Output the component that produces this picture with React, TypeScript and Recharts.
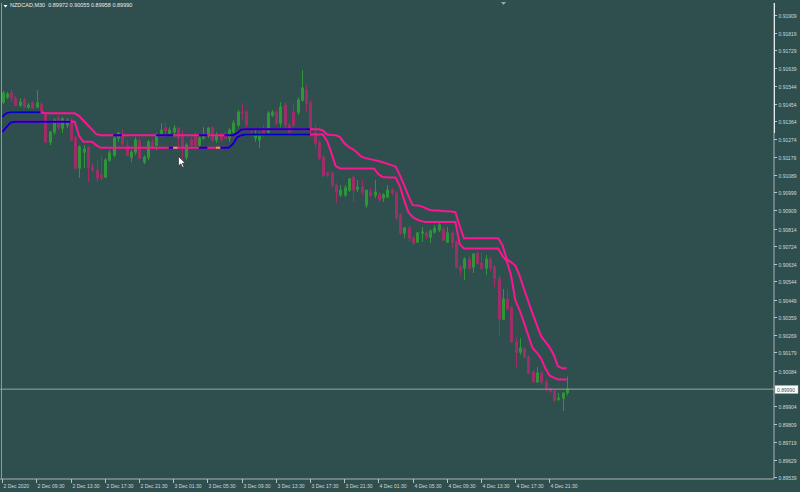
import React from 'react';
import { ComposedChart, Bar, Line, XAxis, YAxis, ReferenceLine } from 'recharts';

const symbol = 'NZDCAD,M30';

// M30 candles, first bar 2 Dec 05:30, last bar 4 Dec 23:30
const opens = [
  0.91463, 0.91488, 0.91509, 0.91483, 0.91447, 0.91473, 0.91437, 0.91458, 0.91437, 0.91452,
  0.91406, 0.91258, 0.91309, 0.91380, 0.91329, 0.91345, 0.91370, 0.91278, 0.91124, 0.91206,
  0.91227, 0.91129, 0.91114, 0.91088, 0.91078, 0.91165, 0.91190, 0.91278, 0.91298, 0.91237,
  0.91180, 0.91206, 0.91263, 0.91155, 0.91180, 0.91258, 0.91242, 0.91293, 0.91329, 0.91304,
  0.91309, 0.91329, 0.91283, 0.91180, 0.91268, 0.91293, 0.91242, 0.91278, 0.91293, 0.91329,
  0.91268, 0.91293, 0.91298, 0.91278, 0.91309, 0.91345, 0.91411, 0.91411, 0.91304, 0.91278,
  0.91268, 0.91319, 0.91309, 0.91396, 0.91411, 0.91355, 0.91447, 0.91345, 0.91411, 0.91411,
  0.91473, 0.91524, 0.91458, 0.91304, 0.91253, 0.91180, 0.91099, 0.91099, 0.91037, 0.90986,
  0.90986, 0.91011, 0.91078, 0.91016, 0.91027, 0.90934, 0.91001, 0.90986, 0.90991, 0.90970,
  0.90976, 0.91011, 0.90996, 0.90883, 0.90791, 0.90816, 0.90765, 0.90745, 0.90791, 0.90791,
  0.90770, 0.90796, 0.90806, 0.90811, 0.90745, 0.90791, 0.90745, 0.90616, 0.90611, 0.90657,
  0.90616, 0.90688, 0.90637, 0.90611, 0.90657, 0.90616, 0.90555, 0.90349, 0.90452, 0.90406,
  0.90232, 0.90180, 0.90196, 0.90154, 0.90078, 0.90027, 0.90072, 0.90027, 0.89991, 0.89980,
  0.89939, 0.89944, 0.89972,
];
const highs = [
  0.91519, 0.91514, 0.91524, 0.91493, 0.91483, 0.91488, 0.91458, 0.91468, 0.91524, 0.91463,
  0.91411, 0.91314, 0.91380, 0.91391, 0.91386, 0.91380, 0.91380, 0.91288, 0.91242, 0.91242,
  0.91237, 0.91150, 0.91165, 0.91190, 0.91175, 0.91216, 0.91288, 0.91309, 0.91324, 0.91268,
  0.91216, 0.91283, 0.91278, 0.91190, 0.91268, 0.91273, 0.91304, 0.91355, 0.91360, 0.91334,
  0.91345, 0.91334, 0.91319, 0.91253, 0.91283, 0.91309, 0.91288, 0.91334, 0.91334, 0.91339,
  0.91309, 0.91304, 0.91314, 0.91329, 0.91370, 0.91422, 0.91458, 0.91422, 0.91319, 0.91319,
  0.91309, 0.91345, 0.91416, 0.91422, 0.91422, 0.91463, 0.91463, 0.91360, 0.91458, 0.91488,
  0.91627, 0.91550, 0.91473, 0.91345, 0.91268, 0.91190, 0.91104, 0.91104, 0.91047, 0.91037,
  0.91037, 0.91073, 0.91088, 0.91063, 0.91063, 0.91011, 0.91022, 0.91063, 0.91001, 0.90996,
  0.91037, 0.91022, 0.91006, 0.90893, 0.90822, 0.90827, 0.90780, 0.90796, 0.90822, 0.90801,
  0.90811, 0.90832, 0.90847, 0.90822, 0.90822, 0.90801, 0.90755, 0.90627, 0.90668, 0.90678,
  0.90688, 0.90693, 0.90688, 0.90678, 0.90668, 0.90627, 0.90575, 0.90503, 0.90503, 0.90416,
  0.90252, 0.90252, 0.90206, 0.90165, 0.90088, 0.90103, 0.90083, 0.90037, 0.89996, 0.89985,
  0.89970, 0.89970, 0.90055,
];
const lows = [
  0.91452, 0.91478, 0.91463, 0.91442, 0.91437, 0.91432, 0.91427, 0.91427, 0.91432, 0.91401,
  0.91253, 0.91242, 0.91293, 0.91319, 0.91304, 0.91329, 0.91263, 0.91114, 0.91073, 0.91124,
  0.91052, 0.91104, 0.91052, 0.91063, 0.91073, 0.91155, 0.91180, 0.91258, 0.91237, 0.91185,
  0.91155, 0.91190, 0.91170, 0.91144, 0.91165, 0.91227, 0.91216, 0.91283, 0.91293, 0.91293,
  0.91283, 0.91232, 0.91165, 0.91165, 0.91232, 0.91227, 0.91227, 0.91268, 0.91278, 0.91258,
  0.91253, 0.91258, 0.91268, 0.91258, 0.91298, 0.91334, 0.91370, 0.91334, 0.91283, 0.91258,
  0.91227, 0.91278, 0.91298, 0.91386, 0.91345, 0.91334, 0.91324, 0.91293, 0.91334, 0.91396,
  0.91463, 0.91411, 0.91283, 0.91227, 0.91165, 0.91078, 0.91078, 0.91027, 0.90945, 0.90976,
  0.90976, 0.91001, 0.90950, 0.91001, 0.90986, 0.90919, 0.90976, 0.90970, 0.90950, 0.90950,
  0.90970, 0.90986, 0.90857, 0.90780, 0.90765, 0.90745, 0.90729, 0.90740, 0.90745, 0.90760,
  0.90740, 0.90786, 0.90796, 0.90750, 0.90740, 0.90714, 0.90611, 0.90575, 0.90549, 0.90601,
  0.90586, 0.90627, 0.90601, 0.90575, 0.90591, 0.90514, 0.90263, 0.90344, 0.90396, 0.90227,
  0.90103, 0.90165, 0.90149, 0.90067, 0.90022, 0.90022, 0.90011, 0.89975, 0.89970, 0.89924,
  0.89929, 0.89878, 0.89958,
];
const closes = [
  0.91509, 0.91504, 0.91483, 0.91447, 0.91463, 0.91437, 0.91447, 0.91432, 0.91458, 0.91406,
  0.91258, 0.91309, 0.91370, 0.91334, 0.91375, 0.91370, 0.91268, 0.91124, 0.91232, 0.91221,
  0.91129, 0.91114, 0.91073, 0.91073, 0.91165, 0.91201, 0.91278, 0.91304, 0.91247, 0.91190,
  0.91206, 0.91268, 0.91175, 0.91180, 0.91258, 0.91232, 0.91293, 0.91319, 0.91314, 0.91319,
  0.91329, 0.91278, 0.91232, 0.91242, 0.91242, 0.91242, 0.91278, 0.91293, 0.91329, 0.91268,
  0.91293, 0.91268, 0.91278, 0.91319, 0.91355, 0.91411, 0.91406, 0.91345, 0.91293, 0.91293,
  0.91293, 0.91293, 0.91406, 0.91411, 0.91355, 0.91437, 0.91345, 0.91309, 0.91345, 0.91473,
  0.91535, 0.91458, 0.91319, 0.91253, 0.91175, 0.91088, 0.91088, 0.91037, 0.91001, 0.91011,
  0.91022, 0.91068, 0.91011, 0.91027, 0.91001, 0.91011, 0.90986, 0.91001, 0.90960, 0.90986,
  0.91011, 0.90996, 0.90868, 0.90791, 0.90816, 0.90765, 0.90740, 0.90791, 0.90796, 0.90775,
  0.90801, 0.90816, 0.90832, 0.90755, 0.90791, 0.90745, 0.90616, 0.90601, 0.90657, 0.90611,
  0.90683, 0.90637, 0.90611, 0.90657, 0.90611, 0.90560, 0.90349, 0.90452, 0.90401, 0.90232,
  0.90180, 0.90201, 0.90154, 0.90072, 0.90027, 0.90072, 0.90027, 0.89996, 0.89980, 0.89934,
  0.89944, 0.89970, 0.89990,
];

// indicator channel (upper / lower line)
const upperBand = [
  0.91386, 0.91406, 0.91410, 0.91410, 0.91410, 0.91410, 0.91410, 0.91410, 0.91410, 0.91410,
  0.91407, 0.91405, 0.91405, 0.91405, 0.91405, 0.91405, 0.91405, 0.91405, 0.91391, 0.91368,
  0.91345, 0.91322, 0.91298, 0.91293, 0.91293, 0.91293, 0.91293, 0.91293, 0.91293, 0.91293,
  0.91293, 0.91293, 0.91293, 0.91293, 0.91293, 0.91293, 0.91293, 0.91293, 0.91293, 0.91293,
  0.91293, 0.91293, 0.91293, 0.91293, 0.91293, 0.91293, 0.91293, 0.91293, 0.91293, 0.91293,
  0.91293, 0.91293, 0.91293, 0.91293, 0.91293, 0.91304, 0.91322, 0.91323, 0.91323, 0.91323,
  0.91323, 0.91323, 0.91323, 0.91323, 0.91323, 0.91323, 0.91323, 0.91323, 0.91323, 0.91323,
  0.91323, 0.91323, 0.91323, 0.91323, 0.91323, 0.91317, 0.91296, 0.91294, 0.91293, 0.91283,
  0.91253, 0.91233, 0.91221, 0.91204, 0.91183, 0.91175, 0.91170, 0.91165, 0.91160, 0.91154,
  0.91147, 0.91139, 0.91132, 0.91088, 0.91037, 0.90981, 0.90934, 0.90932, 0.90929, 0.90919,
  0.90909, 0.90907, 0.90906, 0.90904, 0.90902, 0.90901, 0.90898, 0.90827, 0.90764, 0.90764,
  0.90764, 0.90764, 0.90764, 0.90764, 0.90764, 0.90764, 0.90764, 0.90729, 0.90657, 0.90642,
  0.90624, 0.90573, 0.90506, 0.90442, 0.90380, 0.90321, 0.90263, 0.90234, 0.90206, 0.90165,
  0.90106, 0.90097, 0.90097,
];
const lowerBand = [
  0.91309, 0.91334, 0.91358, 0.91362, 0.91362, 0.91362, 0.91362, 0.91362, 0.91362, 0.91362,
  0.91362, 0.91362, 0.91362, 0.91362, 0.91362, 0.91362, 0.91362, 0.91362, 0.91288, 0.91259,
  0.91259, 0.91259, 0.91242, 0.91228, 0.91228, 0.91228, 0.91228, 0.91228, 0.91228, 0.91228,
  0.91228, 0.91228, 0.91228, 0.91228, 0.91228, 0.91228, 0.91228, 0.91228, 0.91228, 0.91228,
  0.91228, 0.91228, 0.91228, 0.91228, 0.91228, 0.91228, 0.91228, 0.91228, 0.91228, 0.91228,
  0.91228, 0.91228, 0.91228, 0.91228, 0.91249, 0.91283, 0.91293, 0.91296, 0.91296, 0.91296,
  0.91296, 0.91296, 0.91296, 0.91296, 0.91296, 0.91296, 0.91296, 0.91296, 0.91296, 0.91296,
  0.91296, 0.91296, 0.91296, 0.91296, 0.91296, 0.91296, 0.91263, 0.91201, 0.91134, 0.91122,
  0.91122, 0.91122, 0.91122, 0.91122, 0.91122, 0.91122, 0.91122, 0.91121, 0.91093, 0.91078,
  0.91077, 0.91076, 0.91076, 0.91032, 0.90960, 0.90898, 0.90873, 0.90860, 0.90852, 0.90847,
  0.90847, 0.90847, 0.90847, 0.90847, 0.90847, 0.90847, 0.90847, 0.90734, 0.90712, 0.90712,
  0.90712, 0.90712, 0.90712, 0.90712, 0.90712, 0.90712, 0.90712, 0.90673, 0.90647, 0.90575,
  0.90447, 0.90396, 0.90334, 0.90268, 0.90203, 0.90178, 0.90149, 0.90098, 0.90060, 0.90049,
  0.90040, 0.90040, 0.90040,
];

// bar ranges where the indicator is drawn in blue / orange instead of pink
const upperBlueSpans = [[0, 9], [26, 28], [36, 40], [46, 48], [52, 72]];
const lowerBlueSpans = [[0, 16], [39, 40], [46, 48], [51, 72]];
const lowerOrangeSpans = [[40, 41], [50, 51]];

const priceTicks = [
  0.91909, 0.91819, 0.91729, 0.91639, 0.91544, 0.91454, 0.91364, 0.91274, 0.91179,
  0.91089, 0.90999, 0.90909, 0.90814, 0.90724, 0.90634, 0.90544, 0.90449, 0.90359,
  0.90269, 0.90179, 0.90084, 0.89904, 0.89809, 0.89719, 0.89629, 0.89539,
];
const currentPrice = 0.8999;

const timeLabels = [
  '2 Dec 2020', '2 Dec 09:30', '2 Dec 13:30', '2 Dec 17:30', '2 Dec 21:30',
  '3 Dec 01:30', '3 Dec 05:30', '3 Dec 09:30', '3 Dec 13:30', '3 Dec 17:30', '3 Dec 21:30',
  '4 Dec 01:30', '4 Dec 05:30', '4 Dec 09:30', '4 Dec 13:30', '4 Dec 17:30', '4 Dec 21:30',
];
const timeLabelBars = [0, 8, 16, 24, 32, 40, 48, 56, 64, 72, 80, 88, 96, 104, 112, 120, 128];

const SLOTS = 181; // bars + empty space on the right (chart shift)
const BG = '#2F4F4F';
const FONT = '"Liberation Sans", Arial, sans-serif';

const inSpans = (spans: number[][], i: number) => spans.some(([a, b]) => i >= a && i <= b);

const rows = Array.from({ length: SLOTS }, (_, i) => {
  if (i >= opens.length) return { slot: i };
  return {
    slot: i,
    open: opens[i],
    high: highs[i],
    low: lows[i],
    close: closes[i],
    upper: upperBand[i],
    lower: lowerBand[i],
    upperBlue: inSpans(upperBlueSpans, i) ? upperBand[i] : null,
    lowerBlue: inSpans(lowerBlueSpans, i) ? lowerBand[i] : null,
    lowerOrange: inSpans(lowerOrangeSpans, i) ? lowerBand[i] : null,
  };
});

const Candle = (props: any) => {
  const { x, y, width, height, payload } = props;
  if (!payload || payload.open == null) return null;
  const { open, high, low, close } = payload;
  const top = Math.min(y, y + height);
  const h = Math.abs(height);
  const k = high - low > 0 ? h / (high - low) : 0;
  const yO = top + (high - open) * k;
  const yC = top + (high - close) * k;
  const up = close >= open;
  const stroke = up ? '#2E9638' : '#9E2E68';
  const fill = up ? 'rgba(46,150,56,0.10)' : 'rgba(158,46,104,0.35)';
  const cx = Math.round(x + width / 2) + 0.5;
  const bTop = Math.min(yO, yC);
  const bH = Math.max(Math.abs(yO - yC), 1);
  return (
    <g>
      <line x1={cx} x2={cx} y1={top} y2={top + h} stroke={stroke} strokeWidth={1} />
      <rect x={cx - 1} y={bTop} width={2} height={bH} fill={fill} stroke={stroke} strokeWidth={1} />
    </g>
  );
};

const TimeTick = (props: any) => {
  const { x, y, payload } = props;
  const k = timeLabelBars.indexOf(Number(payload.value));
  if (k < 0) return null;
  const tx = Math.round(x) + 0.5;
  return (
    <g>
      <line x1={tx} x2={tx} y1={y} y2={y + 4} stroke="#B8C4C4" />
      <text x={tx + 1} y={y + 8.5} fontSize={5} fontFamily={FONT} fill="#D0D8D8">
        {timeLabels[k]}
      </text>
    </g>
  );
};

const PriceTick = (props: any) => {
  const { x, y, payload } = props;
  const v = Number(payload.value);
  const yy = Math.round(y) + 0.5;
  if (Math.abs(v - currentPrice) < 1e-7) {
    return (
      <g>
        <rect x={x + 1} y={yy - 4} width={23} height={8} fill="#FFFFFF" stroke="#B0B0B0" strokeWidth={0.5} />
        <text x={x + 3} y={yy} dominantBaseline="central" fontSize={5} fontFamily={FONT} fill={BG}>
          {v.toFixed(5)}
        </text>
      </g>
    );
  }
  return (
    <g>
      <line x1={x} x2={x + 3} y1={yy} y2={yy} stroke="#B8C4C4" />
      <text x={x + 4.5} y={yy} dominantBaseline="central" fontSize={5} fontFamily={FONT} fill="#D0D8D8">
        {v.toFixed(5)}
      </text>
    </g>
  );
};

const App: React.FC = () => {
  const title = `${symbol}  ${opens[132].toFixed(5)} ${highs[132].toFixed(5)} ${lows[132].toFixed(5)} ${closes[132].toFixed(5)}`;
  return (
    <div style={{ position: 'absolute', left: 0, top: 0, width: 800, height: 492, background: BG, overflow: 'hidden' }}>
      <ComposedChart width={800} height={492} data={rows} margin={{ top: 3, right: 0, bottom: 0, left: 0 }}>
        <XAxis
          dataKey="slot"
          type="category"
          height={13}
          interval={0}
          tickSize={0}
          tickMargin={0}
          tickLine={false}
          axisLine={{ stroke: '#A8B2B2' }}
          tick={<TimeTick />}
        />
        <YAxis
          orientation="right"
          type="number"
          width={26}
          domain={[0.89529, 0.91971]}
          allowDataOverflow
          ticks={[...priceTicks, currentPrice]}
          interval={0}
          tickSize={0}
          tickMargin={0}
          tickLine={false}
          axisLine={{ stroke: '#A8B2B2' }}
          tick={<PriceTick />}
        />
        <ReferenceLine y={currentPrice} stroke="#9AA6A6" strokeWidth={1} />
        <Bar
          dataKey={(d: any) => (d.high == null ? null : [d.low, d.high])}
          barSize={3}
          shape={<Candle />}
          isAnimationActive={false}
        />
        <Line dataKey="upper" stroke="#FF1493" strokeWidth={2} dot={false} activeDot={false} isAnimationActive={false} />
        <Line dataKey="lower" stroke="#FF1493" strokeWidth={2} dot={false} activeDot={false} isAnimationActive={false} />
        <Line dataKey="upperBlue" stroke="#0000CD" strokeWidth={2} dot={false} activeDot={false} isAnimationActive={false} />
        <Line dataKey="lowerBlue" stroke="#0000CD" strokeWidth={2} dot={false} activeDot={false} isAnimationActive={false} />
        <Line dataKey="lowerOrange" stroke="#D4A05C" strokeWidth={2} dot={false} activeDot={false} isAnimationActive={false} />
      </ComposedChart>

      <div
        style={{
          position: 'absolute', left: 10, top: 3, fontSize: 5.5, fontFamily: FONT,
          color: '#E8ECEC', whiteSpace: 'pre', lineHeight: 1,
        }}
      >
        {title}
      </div>

      <svg width={800} height={492} style={{ position: 'absolute', left: 0, top: 0, pointerEvents: 'none' }}>
        <line x1={1.5} x2={1.5} y1={3} y2={479} stroke="#8A9C9C" />
        <line x1={774.5} x2={774.5} y1={3} y2={133} stroke="#E6ECEC" />
        <path d="M3.5,5 L7.5,5 L5.5,7.5 Z" fill="#FFFFFF" />
        <path d="M501,2 L506,2 L503.5,5 Z" fill="#9AA8A8" />
        <path d="M178.5,156.5 L178.5,166 L180.8,163.8 L182.6,167.6 L184,166.9 L182.3,163.2 L185.3,163.2 Z" fill="#FFFFFF" stroke="#202020" strokeWidth={0.6} />
      </svg>
    </div>
  );
};

export default App;
